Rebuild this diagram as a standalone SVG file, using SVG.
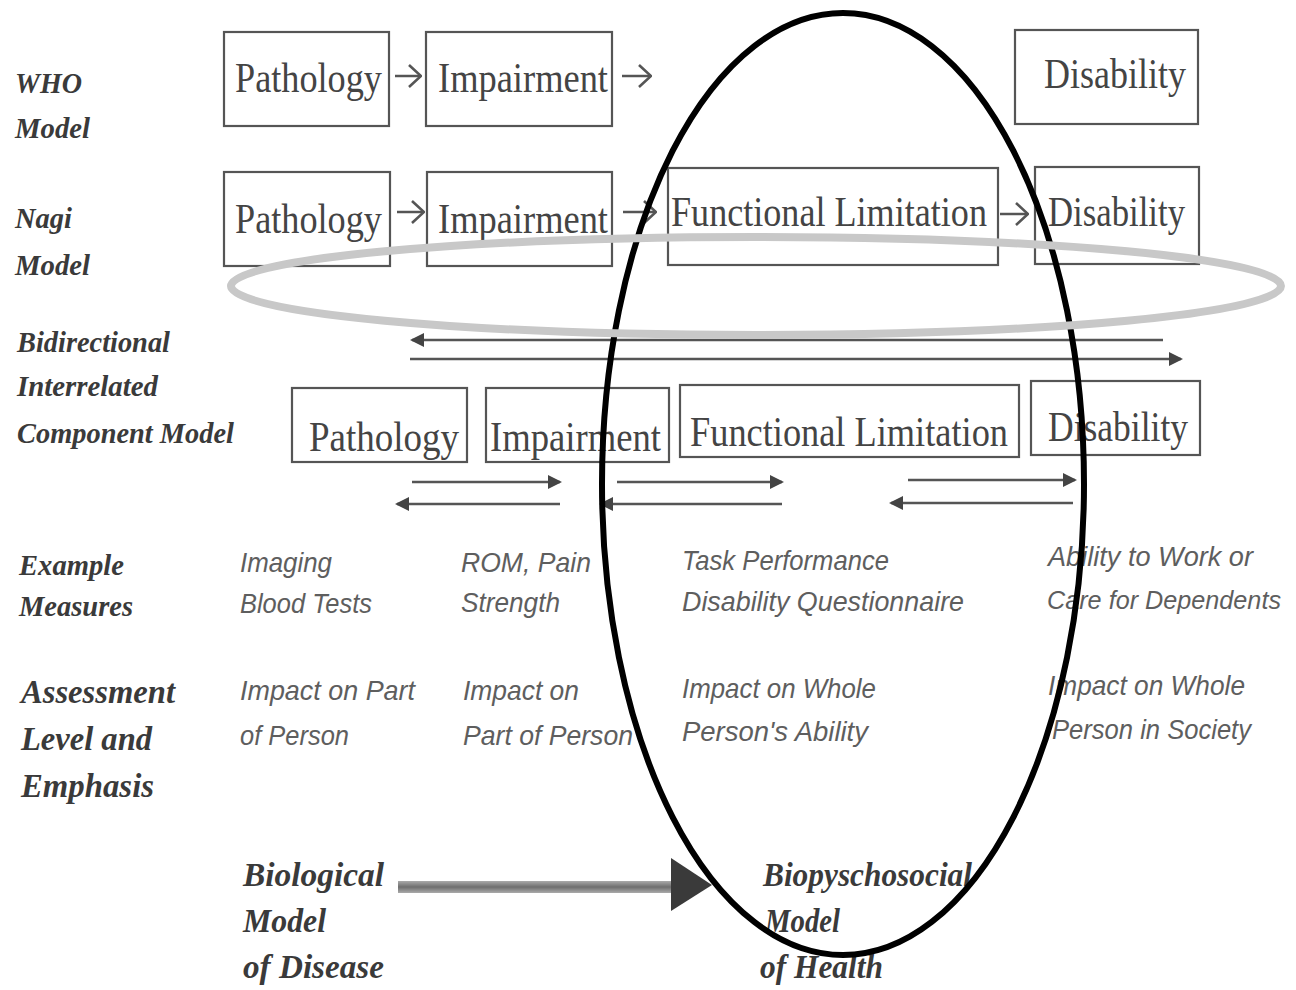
<svg xmlns="http://www.w3.org/2000/svg" width="1296" height="990" viewBox="0 0 1296 990">
<style>
.box{fill:none;stroke:#555;stroke-width:2.2}
.bt{font-family:"Liberation Serif",serif;font-size:43px;fill:#444}
.lab{font-family:"Liberation Serif",serif;font-weight:bold;font-style:italic;fill:#3a3a3a}
.ex{font-family:"Liberation Sans",sans-serif;font-style:italic;font-size:28px;fill:#5e5e5e}
.con{stroke:#555;stroke-width:2.5;fill:none}
</style>
<defs>
<marker id="tri" viewBox="0 0 14 14" refX="12" refY="7" markerWidth="14" markerHeight="14" markerUnits="userSpaceOnUse" orient="auto-start-reverse">
<path d="M0,0 L14,7 L0,14 Z" fill="#444"/>
</marker>
<marker id="chev" viewBox="0 0 14 24" refX="13" refY="12" markerWidth="14" markerHeight="24" markerUnits="userSpaceOnUse" orient="auto">
<path d="M1,1 L13,12 L1,23" fill="none" stroke="#555" stroke-width="2.6"/>
</marker>
<linearGradient id="bar" x1="0" y1="0" x2="0" y2="1">
<stop offset="0" stop-color="#aaa"/><stop offset="0.5" stop-color="#6e6e6e"/><stop offset="1" stop-color="#aaa"/>
</linearGradient>
</defs>
<rect width="1296" height="990" fill="#fff"/>

<g id="labels">
<text class="lab" font-size="29" x="15" y="93" textLength="67" lengthAdjust="spacingAndGlyphs">WHO</text>
<text class="lab" font-size="29" x="15" y="138" textLength="75" lengthAdjust="spacingAndGlyphs">Model</text>
<text class="lab" font-size="29" x="15" y="228" textLength="57" lengthAdjust="spacingAndGlyphs">Nagi</text>
<text class="lab" font-size="29" x="15" y="275" textLength="75" lengthAdjust="spacingAndGlyphs">Model</text>
<text class="lab" font-size="30" x="17" y="352" textLength="153" lengthAdjust="spacingAndGlyphs">Bidirectional</text>
<text class="lab" font-size="30" x="17" y="396" textLength="141" lengthAdjust="spacingAndGlyphs">Interrelated</text>
<text class="lab" font-size="30" x="17" y="443" textLength="217" lengthAdjust="spacingAndGlyphs">Component Model</text>
<text class="lab" font-size="30" x="19" y="575" textLength="105" lengthAdjust="spacingAndGlyphs">Example</text>
<text class="lab" font-size="30" x="19" y="616" textLength="114" lengthAdjust="spacingAndGlyphs">Measures</text>
<text class="lab" font-size="34" x="21" y="703" textLength="154" lengthAdjust="spacingAndGlyphs">Assessment</text>
<text class="lab" font-size="34" x="21" y="750" textLength="131" lengthAdjust="spacingAndGlyphs">Level and</text>
<text class="lab" font-size="34" x="21" y="797" textLength="133" lengthAdjust="spacingAndGlyphs">Emphasis</text>
</g>

<g id="who-pathology"><rect class="box" x="224" y="32" width="165" height="94"/><text class="bt" x="235" y="92" textLength="147" lengthAdjust="spacingAndGlyphs">Pathology</text></g>
<g id="who-impairment"><rect class="box" x="426" y="32" width="186" height="94"/><text class="bt" x="438" y="92" textLength="170" lengthAdjust="spacingAndGlyphs">Impairment</text></g>
<g id="who-disability"><rect class="box" x="1015" y="30" width="183" height="94"/><text class="bt" x="1044" y="88" textLength="142" lengthAdjust="spacingAndGlyphs">Disability</text></g>

<g id="nagi-pathology"><rect class="box" x="224" y="172" width="166" height="94"/><text class="bt" x="235" y="233" textLength="147" lengthAdjust="spacingAndGlyphs">Pathology</text></g>
<g id="nagi-impairment"><rect class="box" x="427" y="172" width="185" height="94"/><text class="bt" x="438" y="233" textLength="170" lengthAdjust="spacingAndGlyphs">Impairment</text></g>
<g id="nagi-functional"><rect class="box" x="668" y="168" width="330" height="97"/><text class="bt" x="671" y="226" textLength="316" lengthAdjust="spacingAndGlyphs">Functional Limitation</text></g>
<g id="nagi-disability"><rect class="box" x="1035" y="167" width="164" height="97"/><text class="bt" x="1048" y="226" textLength="137" lengthAdjust="spacingAndGlyphs">Disability</text></g>

<g id="bicm-pathology"><rect class="box" x="292" y="388" width="175" height="74"/><text class="bt" x="309" y="451" textLength="150" lengthAdjust="spacingAndGlyphs">Pathology</text></g>
<g id="bicm-impairment"><rect class="box" x="486" y="388" width="183" height="74"/><text class="bt" x="490" y="451" textLength="171" lengthAdjust="spacingAndGlyphs">Impairment</text></g>
<g id="bicm-functional"><rect class="box" x="680" y="385" width="339" height="72"/><text class="bt" x="690" y="446" textLength="318" lengthAdjust="spacingAndGlyphs">Functional Limitation</text></g>
<g id="bicm-disability"><rect class="box" x="1031" y="381" width="169" height="74"/><text class="bt" x="1048" y="441" textLength="140" lengthAdjust="spacingAndGlyphs">Disability</text></g>

<g id="connectors">
<line class="con" x1="395" y1="76" x2="421" y2="76" marker-end="url(#chev)"/>
<line class="con" x1="622" y1="76" x2="651" y2="76" marker-end="url(#chev)"/>
<line class="con" x1="397" y1="212" x2="424" y2="212" marker-end="url(#chev)"/>
<line class="con" x1="623" y1="212" x2="656" y2="212" marker-end="url(#chev)"/>
<line class="con" x1="1000" y1="214" x2="1028" y2="214" marker-end="url(#chev)"/>

<line class="con" x1="412" y1="340" x2="1163" y2="340" marker-start="url(#tri)"/>
<line class="con" x1="410" y1="359" x2="1181" y2="359" marker-end="url(#tri)"/>

<line class="con" x1="412" y1="482" x2="560" y2="482" marker-end="url(#tri)"/>
<line class="con" x1="397" y1="504" x2="560" y2="504" marker-start="url(#tri)"/>
<line class="con" x1="617" y1="482" x2="782" y2="482" marker-end="url(#tri)"/>
<line class="con" x1="601" y1="504" x2="782" y2="504" marker-start="url(#tri)"/>
<line class="con" x1="908" y1="480" x2="1075" y2="480" marker-end="url(#tri)"/>
<line class="con" x1="891" y1="503" x2="1073" y2="503" marker-start="url(#tri)"/>

<rect x="398" y="881" width="274" height="12" fill="url(#bar)"/>
<polygon points="671,858 712,885 671,911" fill="#3a3a3a"/>
</g>

<g id="measures">
<text class="ex" x="240" y="572" textLength="92" lengthAdjust="spacingAndGlyphs">Imaging</text>
<text class="ex" x="240" y="613" textLength="132" lengthAdjust="spacingAndGlyphs">Blood Tests</text>
<text class="ex" x="461" y="572" textLength="130" lengthAdjust="spacingAndGlyphs">ROM, Pain</text>
<text class="ex" x="461" y="612" textLength="99" lengthAdjust="spacingAndGlyphs">Strength</text>
<text class="ex" x="682" y="570" textLength="207" lengthAdjust="spacingAndGlyphs">Task Performance</text>
<text class="ex" x="682" y="611" textLength="282" lengthAdjust="spacingAndGlyphs">Disability Questionnaire</text>
<text class="ex" x="1048" y="566" textLength="205" lengthAdjust="spacingAndGlyphs">Ability to Work or</text>
<text class="ex" style="font-size:25px" x="1047" y="609" textLength="234" lengthAdjust="spacingAndGlyphs">Care for Dependents</text>
</g>

<g id="assessment">
<text class="ex" x="240" y="700" textLength="175" lengthAdjust="spacingAndGlyphs">Impact on Part</text>
<text class="ex" x="240" y="745" textLength="109" lengthAdjust="spacingAndGlyphs">of Person</text>
<text class="ex" x="463" y="700" textLength="116" lengthAdjust="spacingAndGlyphs">Impact on</text>
<text class="ex" x="463" y="745" textLength="170" lengthAdjust="spacingAndGlyphs">Part of Person</text>
<text class="ex" x="682" y="698" textLength="194" lengthAdjust="spacingAndGlyphs">Impact on Whole</text>
<text class="ex" x="682" y="741" textLength="186" lengthAdjust="spacingAndGlyphs">Person's Ability</text>
<text class="ex" x="1048" y="695" textLength="197" lengthAdjust="spacingAndGlyphs">Impact on Whole</text>
<text class="ex" x="1052" y="739" textLength="199" lengthAdjust="spacingAndGlyphs">Person in Society</text>
</g>

<g id="biological">
<text class="lab" font-size="34" x="243" y="886" textLength="141" lengthAdjust="spacingAndGlyphs">Biological</text>
<text class="lab" font-size="34" x="243" y="932" textLength="83" lengthAdjust="spacingAndGlyphs">Model</text>
<text class="lab" font-size="34" x="243" y="978" textLength="141" lengthAdjust="spacingAndGlyphs">of Disease</text>
</g>
<g id="biopsychosocial">
<text class="lab" font-size="34" x="763" y="886" textLength="209" lengthAdjust="spacingAndGlyphs">Biopyschosocial</text>
<text class="lab" font-size="34" x="765" y="932" textLength="75" lengthAdjust="spacingAndGlyphs">Model</text>
<text class="lab" font-size="34" x="760" y="978" textLength="123" lengthAdjust="spacingAndGlyphs">of Health</text>
</g>

<g id="highlights">
<ellipse cx="843" cy="484" rx="241" ry="471" fill="none" stroke="#000" stroke-width="6"/>
<ellipse cx="756" cy="286" rx="525" ry="49" fill="none" stroke="#c8c8c8" stroke-width="8"/>
</g>
</svg>
